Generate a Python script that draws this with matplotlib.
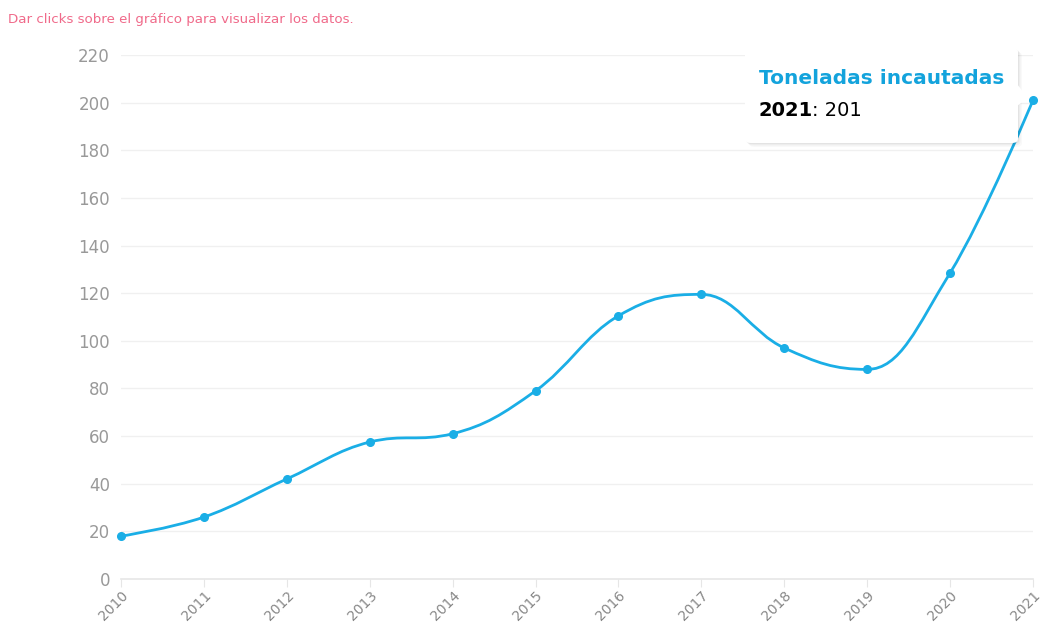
import numpy as np
import matplotlib
matplotlib.use("Agg")
import matplotlib.pyplot as plt
from matplotlib.path import Path
from matplotlib.patches import PathPatch, FancyBboxPatch, Polygon

years = [2010, 2011, 2012, 2013, 2014, 2015, 2016, 2017, 2018, 2019, 2020, 2021]
toneladas = [18, 26, 42, 57.5, 61, 79, 110.5, 119.5, 97, 88, 128.5, 201]
yticks = [0, 20, 40, 60, 80, 100, 120, 140, 160, 180, 200, 220]
series_name = "Toneladas incautadas"
note = "Dar clicks sobre el gráfico para visualizar los datos."

W, H = 1043, 625
fig = plt.figure(figsize=(W/100, H/100), dpi=100)
L, R, B, T = 121, 1033, 579, 55
ax = fig.add_axes([L/W, (H-B)/H, (R-L)/W, (B-T)/H])
ax.set_xlim(years[0], years[-1])
ax.set_ylim(0, 220)

color = "#1aaee6"

# Highcharts-style spline path
xs = np.array(years, float)
ys = np.array(toneladas, float)
n = len(xs)
sm = 1.5
lc = [None]*n
rc = [None]*n
for i in range(1, n-1):
    lx = (sm*xs[i] + xs[i-1])/(sm+1); ly = (sm*ys[i] + ys[i-1])/(sm+1)
    rx = (sm*xs[i] + xs[i+1])/(sm+1); ry = (sm*ys[i] + ys[i+1])/(sm+1)
    corr = ((ry-ly)*(rx-xs[i]))/(rx-lx) + ys[i] - ry
    ly += corr; ry += corr
    if ly > ys[i-1] and ly > ys[i]:
        ly = max(ys[i-1], ys[i]); ry = 2*ys[i]-ly
    elif ly < ys[i-1] and ly < ys[i]:
        ly = min(ys[i-1], ys[i]); ry = 2*ys[i]-ly
    if ry > ys[i+1] and ry > ys[i]:
        ry = max(ys[i+1], ys[i]); ly = 2*ys[i]-ry
    elif ry < ys[i+1] and ry < ys[i]:
        ry = min(ys[i+1], ys[i]); ly = 2*ys[i]-ry
    lc[i] = (lx, ly); rc[i] = (rx, ry)
rc[0] = (xs[0], ys[0]); lc[n-1] = (xs[-1], ys[-1])
verts = [(xs[0], ys[0])]
codes = [Path.MOVETO]
for i in range(1, n):
    verts += [rc[i-1], lc[i], (xs[i], ys[i])]
    codes += [Path.CURVE4]*3
ax.add_patch(PathPatch(Path(verts, codes), fill=False, edgecolor=color, lw=2.0, zorder=3, clip_on=False))
ax.plot(years, toneladas, 'o', color=color, ms=5.5, zorder=4, clip_on=False)

# grid / axes
ax.set_yticks(yticks)
ax.set_xticks(years)
for y in yticks[1:]:
    ax.axhline(y, color="#f0f0f0", lw=1, zorder=0)
for s in ["top", "right", "left"]:
    ax.spines[s].set_visible(False)
ax.spines["bottom"].set_color("#e6e6e6")
ax.spines["bottom"].set_linewidth(1.2)
ax.tick_params(axis="y", length=0, pad=8, labelsize=12, labelcolor="#999999")
ax.tick_params(axis="x", length=6, color="#e6e6e6", pad=1, labelsize=10, labelcolor="#888888")
ax.set_xticklabels([str(y) for y in years], rotation=45, ha="right", rotation_mode="anchor")

fig.text(8/W, 1-20/H, note, fontsize=9.6, color="#f06a8a", va="center", ha="left")

# tooltip
bx0, by0, bx1, by1 = 745, 48, 1018, 143
for k, a in [(4, 0.025), (2.5, 0.035), (1.2, 0.05)]:
    shadow = FancyBboxPatch(((bx0+k)/W, 1-(by1+k)/H), (bx1-bx0)/W, (by1-by0)/H,
                            boxstyle="round,pad=0,rounding_size=0.006", transform=fig.transFigure,
                            facecolor="#000000", alpha=a, edgecolor="none", zorder=9)
    fig.add_artist(shadow)
box = FancyBboxPatch((bx0/W, 1-by1/H), (bx1-bx0)/W, (by1-by0)/H,
                     boxstyle="round,pad=0,rounding_size=0.006", transform=fig.transFigure,
                     facecolor="white", edgecolor="none", zorder=10)
fig.add_artist(box)
tri = Polygon([((bx1-1)/W, 1-84/H), (1028/W, 1-98/H), ((bx1-1)/W, 1-106/H)], closed=True,
              transform=fig.transFigure, facecolor="white", edgecolor="none", zorder=11)
fig.add_artist(tri)
fig.text(759/W, 1-79/H, series_name, fontsize=14.5, fontweight="bold", color="#13a3dc",
         va="center", ha="left", zorder=12)
fig.text(759/W, 1-110/H, "2021", fontsize=14, fontweight="bold", color="black",
         va="center", ha="left", zorder=12)
fig.text(812/W, 1-110/H, ": 201", fontsize=14, color="black", va="center", ha="left", zorder=12)

fig.savefig("out.png", dpi=100, facecolor="white")
